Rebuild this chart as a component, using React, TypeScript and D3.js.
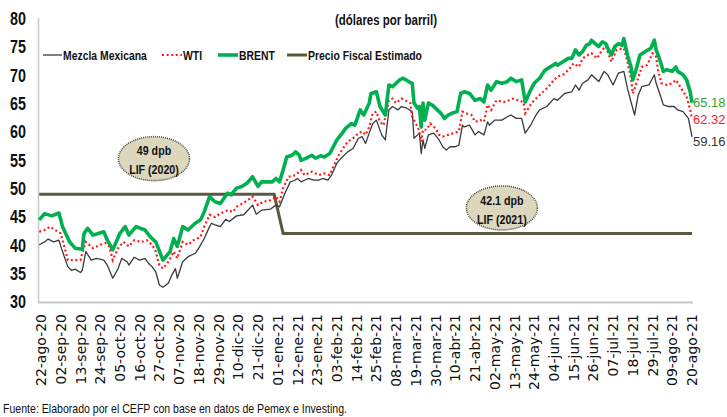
import React from "react";
import * as d3 from "d3";

type Pt = [string, number];

const MEZCLA: Pt[] = [
  ["2020-08-21",40.1],["2020-08-24",40.6],["2020-08-26",41.1],["2020-08-29",40.6],["2020-09-01",40.9],["2020-09-03",38.9],["2020-09-06",36.2],["2020-09-08",35.6],["2020-09-10",35.8],["2020-09-13",35.2],["2020-09-14",35.6],["2020-09-16",38.9],["2020-09-19",37.4],["2020-09-22",37.7],["2020-09-26",37.4],["2020-09-28",36.5],["2020-10-01",34.2],["2020-10-04",35.9],["2020-10-06",37.7],["2020-10-09",37.1],["2020-10-10",36.5],["2020-10-13",37.9],["2020-10-16",37.4],["2020-10-19",37.7],["2020-10-21",36.8],["2020-10-23",36.2],["2020-10-25",35.3],["2020-10-27",33.0],["2020-10-29",32.6],["2020-11-01",33.3],["2020-11-03",34.8],["2020-11-05",35.9],["2020-11-06",34.2],["2020-11-09",37.1],["2020-11-12",38.0],["2020-11-16",38.6],["2020-11-18",39.5],["2020-11-21",41.2],["2020-11-24",43.3],["2020-11-25",43.9],["2020-11-27",43.6],["2020-11-30",43.3],["2020-12-03",44.6],["2020-12-05",44.2],["2020-12-09",45.2],["2020-12-13",45.4],["2020-12-18",47.1],["2020-12-20",45.5],["2020-12-23",46.2],["2020-12-28",46.4],["2020-12-31",47.1],["2021-01-02",46.8],["2021-01-05",49.2],["2021-01-08",51.2],["2021-01-10",51.4],["2021-01-12",51.8],["2021-01-14",51.2],["2021-01-18",51.8],["2021-01-21",51.5],["2021-01-24",51.5],["2021-01-26",51.8],["2021-01-29",51.5],["2021-01-31",52.4],["2021-02-03",54.5],["2021-02-06",55.6],["2021-02-09",56.5],["2021-02-12",57.1],["2021-02-15",58.9],["2021-02-17",59.2],["2021-02-19",58.0],["2021-02-21",59.8],["2021-02-23",61.5],["2021-02-25",62.1],["2021-02-28",59.5],["2021-03-02",58.6],["2021-03-04",63.9],["2021-03-06",64.5],["2021-03-09",63.9],["2021-03-11",64.5],["2021-03-14",64.2],["2021-03-17",63.6],["2021-03-18",58.9],["2021-03-20",59.5],["2021-03-21",59.8],["2021-03-22",56.2],["2021-03-23",58.6],["2021-03-24",57.1],["2021-03-26",59.5],["2021-03-29",59.8],["2021-04-01",58.6],["2021-04-03",57.4],["2021-04-05",56.8],["2021-04-07",57.4],["2021-04-10",57.4],["2021-04-12",57.7],["2021-04-14",61.2],["2021-04-15",60.9],["2021-04-18",61.2],["2021-04-21",59.5],["2021-04-23",60.1],["2021-04-26",59.5],["2021-04-28",61.8],["2021-04-29",61.2],["2021-05-02",62.1],["2021-05-06",62.1],["2021-05-09",62.7],["2021-05-11",63.0],["2021-05-14",62.4],["2021-05-17",62.4],["2021-05-19",59.8],["2021-05-22",61.2],["2021-05-25",63.0],["2021-05-27",63.9],["2021-05-31",64.5],["2021-06-04",65.9],["2021-06-06",65.6],["2021-06-10",66.8],["2021-06-14",67.1],["2021-06-16",68.3],["2021-06-18",67.4],["2021-06-20",68.6],["2021-06-23",69.2],["2021-06-25",70.1],["2021-06-27",69.5],["2021-06-29",68.9],["2021-07-02",70.7],["2021-07-04",70.1],["2021-07-07",68.3],["2021-07-10",70.4],["2021-07-13",70.7],["2021-07-15",67.7],["2021-07-17",65.3],["2021-07-19",63.0],["2021-07-21",66.5],["2021-07-23",68.0],["2021-07-27",68.3],["2021-07-30",70.1],["2021-07-31",68.6],["2021-08-02",66.8],["2021-08-04",64.8],["2021-08-07",64.5],["2021-08-10",64.5],["2021-08-12",63.9],["2021-08-15",63.6],["2021-08-18",62.4],["2021-08-20",59.16]
];

const WTI: Pt[] = [
  ["2020-08-21",42.4],["2020-08-24",42.7],["2020-08-27",43.3],["2020-08-30",42.7],["2020-09-02",42.1],["2020-09-04",39.8],["2020-09-06",37.4],["2020-09-10",37.4],["2020-09-13",37.4],["2020-09-14",38.6],["2020-09-16",40.6],["2020-09-20",39.5],["2020-09-24",40.1],["2020-09-27",40.4],["2020-09-29",39.8],["2020-10-01",37.4],["2020-10-04",39.5],["2020-10-07",40.6],["2020-10-10",39.8],["2020-10-13",40.9],["2020-10-17",40.6],["2020-10-20",40.9],["2020-10-23",40.1],["2020-10-25",38.9],["2020-10-27",36.5],["2020-10-29",35.9],["2020-11-01",37.1],["2020-11-04",38.9],["2020-11-06",37.7],["2020-11-09",40.6],["2020-11-12",40.1],["2020-11-15",40.9],["2020-11-19",41.5],["2020-11-21",43.3],["2020-11-24",45.4],["2020-11-27",45.0],["2020-11-30",45.6],["2020-12-04",46.2],["2020-12-07",45.9],["2020-12-09",46.8],["2020-12-14",47.7],["2020-12-18",48.6],["2020-12-21",47.1],["2020-12-24",47.7],["2020-12-29",48.0],["2020-12-31",48.6],["2021-01-02",47.7],["2021-01-04",50.1],["2021-01-07",52.1],["2021-01-11",52.4],["2021-01-14",53.3],["2021-01-16",52.4],["2021-01-20",53.0],["2021-01-24",52.4],["2021-01-27",52.7],["2021-01-30",52.4],["2021-02-01",53.9],["2021-02-04",55.9],["2021-02-07",57.4],["2021-02-09",58.3],["2021-02-12",58.9],["2021-02-15",59.8],["2021-02-17",60.1],["2021-02-19",59.5],["2021-02-21",60.9],["2021-02-23",63.3],["2021-02-25",63.6],["2021-02-27",61.8],["2021-03-01",61.2],["2021-03-04",65.6],["2021-03-06",65.9],["2021-03-08",65.1],["2021-03-11",65.9],["2021-03-13",65.6],["2021-03-16",65.1],["2021-03-17",62.7],["2021-03-20",60.9],["2021-03-21",60.1],["2021-03-22",58.3],["2021-03-23",60.4],["2021-03-25",60.4],["2021-03-27",61.5],["2021-03-30",60.6],["2021-04-01",59.5],["2021-04-03",59.2],["2021-04-06",59.5],["2021-04-09",59.8],["2021-04-12",60.1],["2021-04-14",63.6],["2021-04-16",63.3],["2021-04-19",63.0],["2021-04-21",61.8],["2021-04-24",62.1],["2021-04-26",61.8],["2021-04-28",64.8],["2021-04-30",63.9],["2021-05-03",65.6],["2021-05-07",65.3],["2021-05-10",65.6],["2021-05-12",65.9],["2021-05-15",65.6],["2021-05-18",65.3],["2021-05-19",63.3],["2021-05-22",64.8],["2021-05-24",65.6],["2021-05-27",66.5],["2021-05-28",66.8],["2021-06-01",68.0],["2021-06-04",69.2],["2021-06-06",69.8],["2021-06-09",70.1],["2021-06-12",70.9],["2021-06-15",72.1],["2021-06-18",71.5],["2021-06-20",73.0],["2021-06-23",73.6],["2021-06-25",73.9],["2021-06-28",73.0],["2021-07-01",74.5],["2021-07-03",75.1],["2021-07-04",74.2],["2021-07-06",72.4],["2021-07-09",74.5],["2021-07-13",74.8],["2021-07-15",72.4],["2021-07-17",69.5],["2021-07-18",66.8],["2021-07-20",68.6],["2021-07-23",71.5],["2021-07-26",71.8],["2021-07-29",73.9],["2021-07-31",73.3],["2021-08-01",71.0],["2021-08-03",68.6],["2021-08-06",68.3],["2021-08-09",68.6],["2021-08-11",69.2],["2021-08-14",67.7],["2021-08-17",66.2],["2021-08-19",63.9],["2021-08-20",62.32]
];

const BRENT: Pt[] = [
  ["2020-08-21",44.5],["2020-08-24",45.6],["2020-08-28",45.2],["2020-09-01",45.7],["2020-09-03",43.3],["2020-09-07",40.6],["2020-09-10",39.5],["2020-09-14",39.3],["2020-09-15",42.1],["2020-09-17",43.0],["2020-09-20",41.8],["2020-09-26",42.4],["2020-09-28",40.9],["2020-10-01",39.2],["2020-10-05",42.1],["2020-10-08",43.3],["2020-10-10",41.8],["2020-10-14",43.3],["2020-10-19",42.7],["2020-10-22",41.5],["2020-10-25",40.6],["2020-10-29",37.4],["2020-11-02",38.9],["2020-11-04",41.2],["2020-11-06",39.8],["2020-11-09",43.3],["2020-11-12",42.7],["2020-11-16",43.9],["2020-11-19",44.5],["2020-11-21",45.9],["2020-11-24",48.6],["2020-11-27",47.7],["2020-11-30",47.4],["2020-12-04",49.2],["2020-12-06",48.9],["2020-12-09",50.1],["2020-12-12",50.4],["2020-12-15",51.0],["2020-12-18",52.1],["2020-12-21",50.4],["2020-12-23",51.2],["2020-12-29",51.2],["2020-12-31",51.8],["2021-01-02",51.2],["2021-01-04",53.3],["2021-01-06",55.6],["2021-01-09",55.9],["2021-01-11",56.5],["2021-01-13",55.9],["2021-01-14",55.0],["2021-01-17",55.4],["2021-01-20",55.9],["2021-01-22",55.4],["2021-01-25",55.8],["2021-01-27",55.6],["2021-01-30",56.2],["2021-02-01",57.4],["2021-02-03",58.6],["2021-02-06",59.8],["2021-02-08",60.7],["2021-02-11",61.5],["2021-02-13",61.2],["2021-02-16",63.9],["2021-02-18",63.0],["2021-02-21",65.1],["2021-02-22",66.8],["2021-02-25",67.1],["2021-02-27",64.5],["2021-03-02",63.0],["2021-03-04",68.3],["2021-03-06",68.0],["2021-03-08",68.6],["2021-03-10",69.2],["2021-03-12",69.5],["2021-03-15",68.9],["2021-03-17",68.6],["2021-03-18",65.1],["2021-03-20",64.2],["2021-03-21",64.5],["2021-03-22",60.9],["2021-03-23",65.1],["2021-03-24",62.1],["2021-03-26",65.1],["2021-03-28",64.8],["2021-03-31",63.9],["2021-04-02",63.3],["2021-04-04",62.4],["2021-04-06",63.0],["2021-04-08",63.3],["2021-04-11",63.6],["2021-04-13",66.8],["2021-04-15",67.1],["2021-04-18",66.8],["2021-04-21",65.6],["2021-04-24",65.9],["2021-04-26",65.3],["2021-04-28",68.3],["2021-04-30",67.4],["2021-05-03",68.9],["2021-05-06",68.6],["2021-05-09",68.9],["2021-05-11",69.5],["2021-05-14",68.9],["2021-05-17",69.2],["2021-05-19",65.3],["2021-05-22",67.4],["2021-05-24",68.6],["2021-05-27",69.5],["2021-05-30",70.9],["2021-06-02",71.5],["2021-06-05",72.1],["2021-06-06",71.8],["2021-06-09",72.4],["2021-06-12",73.0],["2021-06-14",73.0],["2021-06-16",74.5],["2021-06-18",73.6],["2021-06-20",74.2],["2021-06-22",75.3],["2021-06-24",75.6],["2021-06-25",76.2],["2021-06-27",75.6],["2021-06-29",75.1],["2021-07-01",75.9],["2021-07-03",75.6],["2021-07-04",74.8],["2021-07-06",73.6],["2021-07-08",75.1],["2021-07-10",75.6],["2021-07-12",75.3],["2021-07-13",76.5],["2021-07-15",73.6],["2021-07-17",71.5],["2021-07-18",69.2],["2021-07-20",71.2],["2021-07-22",73.6],["2021-07-25",74.2],["2021-07-28",74.8],["2021-07-30",76.2],["2021-07-31",74.5],["2021-08-02",72.8],["2021-08-04",70.7],["2021-08-06",71.0],["2021-08-09",70.7],["2021-08-11",71.5],["2021-08-12",70.7],["2021-08-15",70.1],["2021-08-17",69.2],["2021-08-19",67.1],["2021-08-20",65.18]
];

const FISCAL: Pt[] = [
  ["2020-08-21",49],["2020-12-30",49],["2021-01-04",42.1],["2021-08-20",42.1]
];

const Y_TICKS = [30, 35, 40, 45, 50, 55, 60, 65, 70, 75, 80];
const MONTHS_ES = ["ene","feb","mar","abr","may","jun","jul","ago","sep","oct","nov","dic"];
const TICK_START = "2020-08-22";
const TICK_STEP_DAYS = 11;
const TICK_COUNT = 34;

const LEGEND = [
  { name: "Mezcla Mexicana", key: "mezcla" },
  { name: "WTI", key: "wti" },
  { name: "BRENT", key: "brent" },
  { name: "Precio Fiscal Estimado", key: "fiscal" },
];

const NOTES = [
  { date: "2020-10-24", value: 55.3, lines: ["49 dpb", "LIF (2020)"] },
  { date: "2021-05-06", value: 46.6, lines: ["42.1 dpb", "LIF (2021)"] },
];

const SUBTITLE = "(dólares por barril)";
const SOURCE = "Fuente: Elaborado por el CEFP con base en datos de Pemex e Investing.";

const SANS = "'Liberation Sans', Arial, sans-serif";
const STY: Record<string, any> = {
  mezcla: { stroke: "#3a3a3a", strokeWidth: 1.3 },
  wti: { stroke: "#ff1a1a", strokeWidth: 2.2, strokeDasharray: "2 2.6" },
  brent: { stroke: "#00b050", strokeWidth: 3.6 },
  fiscal: { stroke: "#5b5940", strokeWidth: 3 },
};

const parse = d3.timeParse("%Y-%m-%d");

function NText(props: { x: number; y: number; size: number; bold?: boolean; anchor?: string; fill?: string; sx?: number; children: any }) {
  const { x, y, size, bold, anchor, fill, sx, children } = props;
  return (
    <text transform={`translate(${x},${y}) scale(${sx ?? 0.82},1)`} dy="0.36em" textAnchor={anchor ?? "start"}
      fontFamily={SANS} fontWeight={bold ? "bold" : "normal"} fontSize={size} fill={fill ?? "#111"}>{children}</text>
  );
}

export default function App() {
  const x = d3.scaleTime().domain([parse("2020-08-22")!, parse("2021-08-20")!]).range([41, 692]);
  const y = d3.scaleLinear().domain([30, 80]).range([302, 18.7]);
  const line = d3.line<Pt>().x(d => x(parse(d[0])!)).y(d => y(d[1]));

  const start = parse(TICK_START)!;
  const ticks = d3.range(TICK_COUNT).map(i => d3.timeDay.offset(start, i * TICK_STEP_DAYS));
  const fmt = (d: Date) => `${d3.timeFormat("%d")(d)}-${MONTHS_ES[d.getMonth()]}-${d3.timeFormat("%y")(d)}`;

  const last = (s: Pt[]) => s[s.length - 1];
  const endLabels = [
    { s: BRENT, color: "#3f9d35", dy: 4 },
    { s: WTI, color: "#ff2020", dy: 5 },
    { s: MEZCLA, color: "#333333", dy: 9 },
  ];

  const legendX = [43, 162, 218, 287];
  const legendW = [19, 20, 20, 20];

  return (
    <svg width={727} height={417} style={{ position: "absolute", left: 0, top: 0, background: "#fff" }}>
      <line x1={38.5} x2={38.5} y1={18} y2={302} stroke="#c8c8c8" strokeWidth={1.5} />
      <line x1={38} x2={693} y1={302.5} y2={302.5} stroke="#c8c8c8" strokeWidth={2} />
      {Y_TICKS.map(t => (
        <NText key={t} x={26} y={y(t)} size={17.5} bold anchor="end">{t}</NText>
      ))}
      {ticks.map((d, i) => (
        <text key={i} transform={`translate(${x(d)},314) rotate(-90)`} dy="0.36em" textAnchor="end" fontFamily="'DejaVu Sans', sans-serif" fontSize={14} fill="#111">{fmt(d)}</text>
      ))}

      <path d={line(FISCAL)!} fill="none" {...STY.fiscal} />
      <path d={line(MEZCLA)!} fill="none" {...STY.mezcla} strokeLinejoin="round" />
      <path d={line(WTI)!} fill="none" {...STY.wti} />
      <path d={line(BRENT)!} fill="none" {...STY.brent} strokeLinejoin="round" />

      {endLabels.map((e, i) => {
        const p = last(e.s);
        return (
          <text key={i} x={693} y={y(p[1]) + e.dy} fontFamily={SANS} fontSize={13} fill={e.color}>{p[1].toFixed(2)}</text>
        );
      })}

      {NOTES.map((n, i) => {
        const cx = x(parse(n.date)!);
        const cy = y(n.value);
        return (
          <g key={i}>
            <ellipse cx={cx} cy={cy} rx={35.5} ry={22} fill="#ddd8bd" stroke="#4a4a3a" strokeWidth={1.6} strokeDasharray="1 1" />
            <NText x={cx} y={cy - 8} size={13} bold anchor="middle">{n.lines[0]}</NText>
            <NText x={cx} y={cy + 11} size={13} bold anchor="middle">{n.lines[1]}</NText>
          </g>
        );
      })}

      {LEGEND.map((l, i) => (
        <g key={l.key}>
          <line x1={legendX[i]} x2={legendX[i] + legendW[i]} y1={55} y2={55} {...STY[l.key]} />
          <NText x={legendX[i] + legendW[i] + 1} y={55} size={12.7} bold>{l.name}</NText>
        </g>
      ))}

      <NText x={386} y={20} size={14} bold anchor="middle">{SUBTITLE}</NText>
      <NText x={3} y={408} size={12.9}>{SOURCE}</NText>
    </svg>
  );
}
